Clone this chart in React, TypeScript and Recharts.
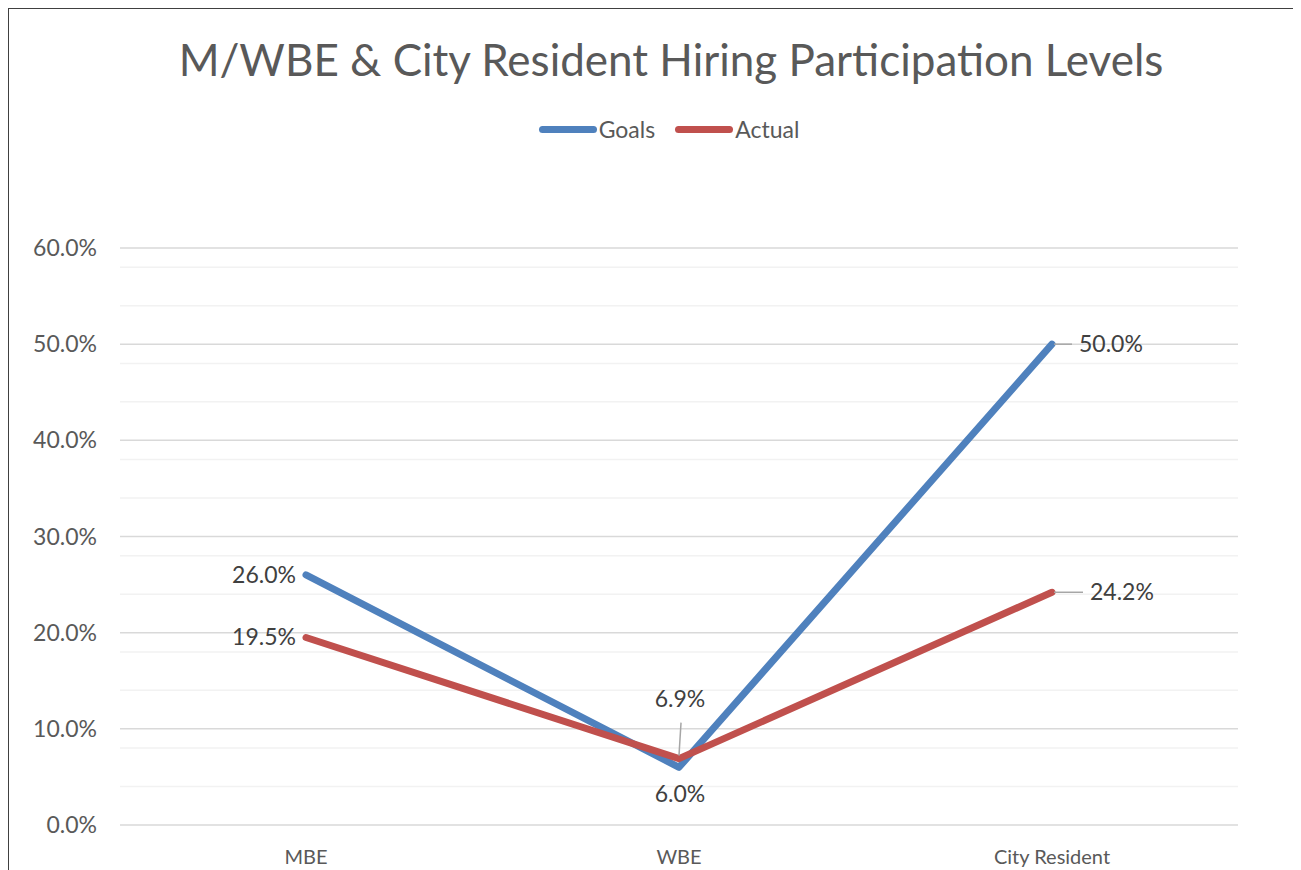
import { LineChart, Line, XAxis, YAxis, CartesianGrid, Legend, LabelList } from 'recharts';

const categories = ['MBE', 'WBE', 'City Resident'];
const goals = [0.26, 0.06, 0.5];
const actual = [0.195, 0.069, 0.242];
const majorTicks = [0, 0.1, 0.2, 0.3, 0.4, 0.5, 0.6];
const minorTicks = [
    0.02, 0.04, 0.06, 0.08, 0.12, 0.14, 0.16, 0.18, 0.22, 0.24, 0.26, 0.28,
    0.32, 0.34, 0.36, 0.38, 0.42, 0.44, 0.46, 0.48, 0.52, 0.54, 0.56, 0.58,
];

// where each data label sits relative to its point
const goalsPlacement = ['left', 'below', 'right'];
const actualPlacement = ['left', 'above', 'right'];

const BLUE = '#4f81bd';
const RED = '#c0504d';
const FONT = 'Lato, "Open Sans", sans-serif';

const data = categories.map((name, i) => ({ name, goals: goals[i], actual: actual[i] }));

const pct = (v: number) => `${(v * 100).toFixed(1)}%`;

const makeLabel = (placement: string[], leaderLen: number) => (props: any) => {
    const { x, y, value, index } = props;
    const p = placement[index];
    const txt = { fontSize: 23, fill: '#404040', fontFamily: FONT };
    if (p === 'left') {
        return <text x={x - 10} y={y + 8} textAnchor="end" {...txt}>{pct(value)}</text>;
    }
    if (p === 'below') {
        return <text x={x + 1} y={y + 35} textAnchor="middle" {...txt}>{pct(value)}</text>;
    }
    if (p === 'above') {
        return (
            <g>
                <line x1={x} y1={y - 3} x2={x + 2} y2={y - 36} stroke="#a6a6a6" strokeWidth={1.5} />
                <text x={x + 1} y={y - 52} textAnchor="middle" {...txt}>{pct(value)}</text>
            </g>
        );
    }
    return (
        <g>
            <line x1={x + 2} y1={y} x2={x + leaderLen} y2={y} stroke="#a6a6a6" strokeWidth={1.5} />
            <text x={x + leaderLen + 7} y={y + 8} textAnchor="start" {...txt}>{pct(value)}</text>
        </g>
    );
};

const LegendContent = () => (
    <div style={{ display: 'flex', justifyContent: 'center', alignItems: 'center', fontFamily: FONT, fontSize: 23, color: '#595959' }}>
        <span style={{ display: 'inline-block', width: 58, height: 7, borderRadius: 4, background: BLUE, marginRight: 2 }} />
        <span style={{ marginRight: 20 }}>Goals</span>
        <span style={{ display: 'inline-block', width: 58, height: 7, borderRadius: 4, background: RED, marginRight: 2 }} />
        <span>Actual</span>
    </div>
);

export default function App() {
    return (
        <div style={{ position: 'relative', width: 1293, height: 862, borderLeft: '1.5px solid #404040', borderTop: '1.5px solid #404040', boxSizing: 'border-box', background: '#fff' }}>
            <div style={{ position: 'absolute', top: 24, left: 0, width: 1324, textAlign: 'center', fontFamily: FONT, fontSize: 44, color: '#595959' }}>
                M/WBE &amp; City Resident Hiring Participation Levels
            </div>
            <LineChart
                width={1291}
                height={860}
                data={data}
                margin={{ top: 239, right: 62, bottom: 4, left: 0 }}
                style={{ position: 'absolute', top: 0, left: 0 }}
            >
                <CartesianGrid vertical={false} horizontalValues={minorTicks} stroke="#f2f2f2" strokeWidth={1.5} />
                <CartesianGrid vertical={false} horizontalValues={majorTicks} stroke="#d9d9d9" strokeWidth={1.5} />
                <XAxis
                    dataKey="name"
                    height={40}
                    axisLine={false}
                    tickLine={false}
                    tickMargin={19}
                    padding={{ left: 186, right: 186 }}
                    tick={{ fontSize: 20, fill: '#595959', fontFamily: FONT }}
                />
                <YAxis
                    domain={[0, 0.6]}
                    ticks={majorTicks}
                    width={111}
                    axisLine={false}
                    tickLine={false}
                    tickMargin={17}
                    tickFormatter={pct}
                    tick={{ fontSize: 23, fill: '#595959', fontFamily: FONT }}
                />
                <Legend verticalAlign="middle" align="center" wrapperStyle={{ top: 106, left: 0, width: 1320 }} content={LegendContent} />
                <Line dataKey="goals" name="Goals" stroke={BLUE} strokeWidth={7} strokeLinecap="round" strokeLinejoin="round" dot={false} isAnimationActive={false}>
                    <LabelList dataKey="goals" content={makeLabel(goalsPlacement, 20)} />
                </Line>
                <Line dataKey="actual" name="Actual" stroke={RED} strokeWidth={7} strokeLinecap="round" strokeLinejoin="round" dot={false} isAnimationActive={false}>
                    <LabelList dataKey="actual" content={makeLabel(actualPlacement, 31)} />
                </Line>
            </LineChart>
        </div>
    );
}
